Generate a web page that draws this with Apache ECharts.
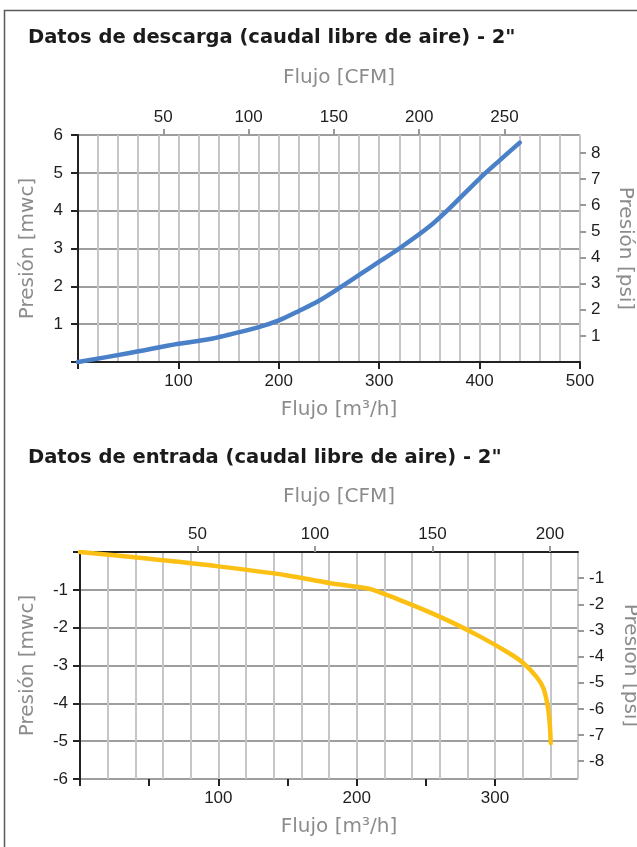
<!DOCTYPE html>
<html>
<head>
<meta charset="utf-8">
<script src="https://cdn.jsdelivr.net/npm/echarts@6/dist/echarts.min.js"></script>
<style>
html,body{margin:0;padding:0;background:#fff;}
#c{width:637px;height:847px;}
</style>
</head>
<body>
<div id="c"></div>
<script>
// ---- Data ----
const titleTop = 'Datos de descarga (caudal libre de aire) - 2"';
const titleBottom = 'Datos de entrada (caudal libre de aire) - 2"';
const nameFlowCfm = 'Flujo [CFM]';
const nameFlowM3h = 'Flujo [m³/h]';
const namePresMwc = 'Presión [mwc]';
const namePresPsi = 'Presión [psi]';

const m3hPerCfm = 1.699;
const mwcPerPsi = 0.691;

// discharge curve: [m3/h, mwc]
const dischargeFlow = [0, 50, 100, 130, 150, 180, 200, 220, 240, 260, 280, 300, 320, 350, 370, 400, 420, 440];
const dischargePres = [0, 0.23, 0.48, 0.6, 0.72, 0.92, 1.1, 1.35, 1.62, 1.95, 2.3, 2.65, 3.0, 3.58, 4.06, 4.85, 5.33, 5.8];

// suction curve: [m3/h, mwc]
const suctionFlow = [0, 50, 100, 150, 180, 200, 210, 230, 250, 270, 290, 310, 320, 330, 335, 338, 339.5, 340.3];
const suctionPres = [0, -0.18, -0.38, -0.62, -0.82, -0.92, -0.98, -1.25, -1.55, -1.88, -2.25, -2.67, -2.92, -3.3, -3.6, -4.05, -4.5, -5.05];

// ticks / labels
const topM3hTicks = [0, 100, 200, 300, 400, 500];
const topM3hLabels = [100, 200, 300, 400, 500];
const topCfmTicks = [50, 100, 150, 200, 250];
const topPsiTicks = [1, 2, 3, 4, 5, 6, 7, 8];
const botM3hTicks = [0, 50, 100, 150, 200, 250, 300];
const botM3hLabels = [100, 200, 300];
const botCfmTicks = [50, 100, 150, 200];
const botPsiTicks = [-1, -2, -3, -4, -5, -6, -7, -8];

const topM3hMax = 500, botM3hMax = 360;

// ---- Styles ----
const NAME_STYLE = {fontFamily: 'DejaVu Sans', fontSize: 20, color: '#8c8c8c'};
const NAME_STYLE_X = {fontFamily: 'DejaVu Sans', fontSize: 20, color: '#8c8c8c', padding: [0, 0, 0, 20]};
const LABEL_STYLE = {fontFamily: 'Liberation Sans', fontSize: 17, color: '#1e1e1e'};
const TITLE_STYLE = {fontFamily: 'DejaVu Sans', fontWeight: 'bold', fontSize: 19.5, color: '#1b1b1b'};
const VGRID = {show: true, lineStyle: {color: '#c6c6ca', width: 2}};
const HGRID = {show: true, lineStyle: {color: '#9e9e9e', width: 2}};
const BLACK_LINE = {show: true, onZero: false, lineStyle: {color: '#222', width: 2}};
const NO_LINE = {show: false, onZero: false};

function zip(a, b) { return a.map((v, i) => [v, b[i]]); }

const chart = echarts.init(document.getElementById('c'), null, {renderer: 'canvas'});

const option = {
  animation: false,
  backgroundColor: '#fff',
  title: [
    {text: titleTop, left: 23, top: 23, textStyle: TITLE_STYLE},
    {text: titleBottom, left: 23, top: 443, textStyle: TITLE_STYLE}
  ],
  graphic: [
    {type: 'rect', shape: {x: 4.5, y: 10.5, width: 700, height: 900}, style: {fill: null, stroke: '#5a5a5a', lineWidth: 1.5}, z: -10}
  ],
  grid: [
    {left: 78, top: 135, width: 502, height: 227, outerBoundsMode: 'none', containLabel: false},
    {left: 80, top: 552, width: 498, height: 227, outerBoundsMode: 'none', containLabel: false}
  ],
  xAxis: [
    // top chart grid lines
    {gridIndex: 0, type: 'value', position: 'bottom', min: 0, max: topM3hMax, interval: 20,
     splitLine: VGRID, axisLine: NO_LINE, axisTick: {show: false}, axisLabel: {show: false}},
    // top chart m3/h axis
    {gridIndex: 0, type: 'value', position: 'bottom', min: 0, max: topM3hMax,
     splitLine: {show: false}, axisLine: BLACK_LINE,
     axisTick: {show: true, customValues: topM3hTicks, length: 7, lineStyle: {color: '#222', width: 2}},
     axisLabel: Object.assign({customValues: topM3hLabels, margin: 11}, LABEL_STYLE),
     name: nameFlowM3h, nameLocation: 'middle', nameGap: 38, nameTextStyle: NAME_STYLE_X},
    // top chart CFM axis
    {gridIndex: 0, type: 'value', position: 'top', min: 0, max: topM3hMax / m3hPerCfm,
     splitLine: {show: false}, axisLine: NO_LINE,
     axisTick: {show: true, customValues: topCfmTicks, length: 6, lineStyle: {color: '#999', width: 2}},
     axisLabel: Object.assign({customValues: topCfmTicks, margin: 9}, LABEL_STYLE),
     name: nameFlowCfm, nameLocation: 'middle', nameGap: 47, nameTextStyle: NAME_STYLE_X},

    // bottom chart grid lines
    {gridIndex: 1, type: 'value', position: 'bottom', min: 0, max: botM3hMax, interval: 20,
     splitLine: VGRID, axisLine: NO_LINE, axisTick: {show: false}, axisLabel: {show: false}},
    // bottom chart m3/h axis
    {gridIndex: 1, type: 'value', position: 'bottom', min: 0, max: botM3hMax,
     splitLine: {show: false}, axisLine: NO_LINE,
     axisTick: {show: true, customValues: botM3hTicks, length: 7, lineStyle: {color: '#222', width: 2}},
     axisLabel: Object.assign({customValues: botM3hLabels, margin: 11}, LABEL_STYLE),
     name: nameFlowM3h, nameLocation: 'middle', nameGap: 38, nameTextStyle: NAME_STYLE_X},
    // bottom chart CFM axis
    {gridIndex: 1, type: 'value', position: 'top', min: 0, max: botM3hMax / m3hPerCfm,
     splitLine: {show: false}, axisLine: BLACK_LINE,
     axisTick: {show: true, customValues: botCfmTicks, length: 6, lineStyle: {color: '#999', width: 2}},
     axisLabel: Object.assign({customValues: botCfmTicks, margin: 9}, LABEL_STYLE),
     name: nameFlowCfm, nameLocation: 'middle', nameGap: 45, nameTextStyle: NAME_STYLE_X}
  ],
  yAxis: [
    {gridIndex: 0, type: 'value', position: 'left', min: 0, max: 6, interval: 1,
     splitLine: HGRID, axisLine: BLACK_LINE,
     axisTick: {show: true, length: 7, lineStyle: {color: '#222', width: 2}},
     axisLabel: Object.assign({margin: 15, formatter: v => v === 0 ? '' : String(v)}, LABEL_STYLE),
     name: namePresMwc, nameLocation: 'middle', nameGap: 40, nameTextStyle: NAME_STYLE},
    {gridIndex: 0, type: 'value', position: 'right', min: 0, max: 6 / mwcPerPsi,
     splitLine: {show: false}, axisLine: NO_LINE,
     axisTick: {show: true, customValues: topPsiTicks, length: 6, lineStyle: {color: '#999', width: 2}},
     axisLabel: Object.assign({customValues: topPsiTicks, margin: 11}, LABEL_STYLE),
     name: namePresPsi, nameLocation: 'middle', nameGap: 35, nameRotate: -90, nameTextStyle: NAME_STYLE},

    {gridIndex: 1, type: 'value', position: 'left', min: -6, max: 0, interval: 1,
     splitLine: HGRID, axisLine: BLACK_LINE,
     axisTick: {show: true, length: 7, lineStyle: {color: '#222', width: 2}},
     axisLabel: Object.assign({margin: 12, formatter: v => v === 0 ? '' : String(v)}, LABEL_STYLE),
     name: namePresMwc, nameLocation: 'middle', nameGap: 42, nameTextStyle: NAME_STYLE},
    {gridIndex: 1, type: 'value', position: 'right', min: -6 / mwcPerPsi, max: 0,
     splitLine: {show: false}, axisLine: NO_LINE,
     axisTick: {show: true, customValues: botPsiTicks, length: 6, lineStyle: {color: '#999', width: 2}},
     axisLabel: Object.assign({customValues: botPsiTicks, margin: 11}, LABEL_STYLE),
     name: namePresPsi, nameLocation: 'middle', nameGap: 42, nameRotate: -90, nameTextStyle: NAME_STYLE}
  ],
  series: [
    {type: 'line', xAxisIndex: 0, yAxisIndex: 0, data: zip(dischargeFlow, dischargePres),
     smooth: 0.3, showSymbol: false, lineStyle: {color: '#4a80c8', width: 4.5, cap: 'round', join: 'round'}, z: 5},
    {type: 'line', xAxisIndex: 3, yAxisIndex: 2, data: zip(suctionFlow, suctionPres),
     smooth: 0.3, showSymbol: false, lineStyle: {color: '#fcbf14', width: 4.5, cap: 'round', join: 'round'}, z: 5}
  ]
};
chart.setOption(option);
</script>
</body>
</html>
